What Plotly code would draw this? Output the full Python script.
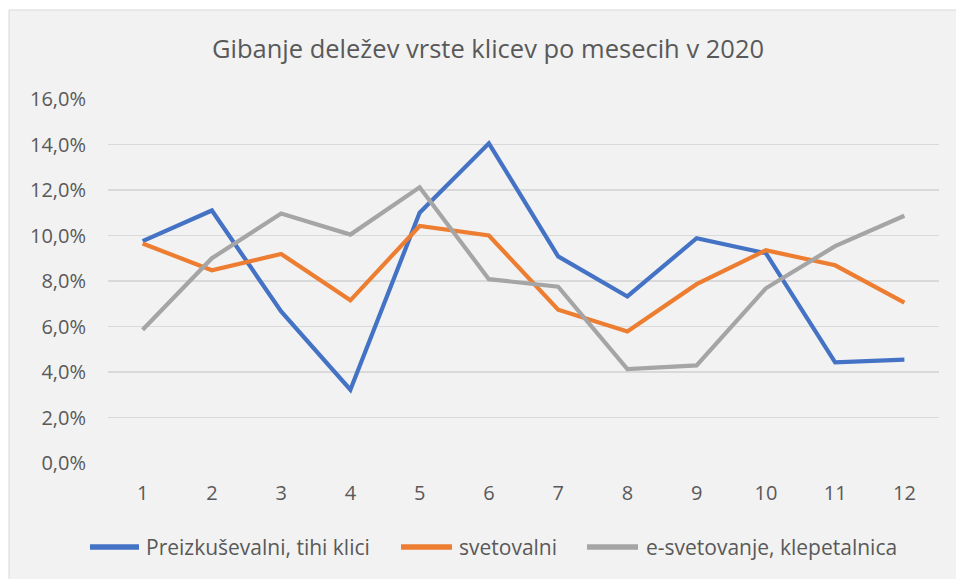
import plotly.graph_objects as go

months = [str(i) for i in range(1, 13)]
preizkusevalni = [9.75, 11.1, 6.66, 3.22, 11.0, 14.05, 9.08, 7.32, 9.88, 9.22, 4.42, 4.54]
svetovalni = [9.65, 8.47, 9.19, 7.15, 10.42, 10.0, 6.74, 5.78, 7.86, 9.35, 8.69, 7.05]
e_svetovanje = [5.86, 9.0, 10.97, 10.04, 12.12, 8.08, 7.75, 4.13, 4.29, 7.68, 9.53, 10.87]
series_names = ["Preizkuševalni, tihi klici", "svetovalni", "e-svetovanje, klepetalnica"]
y_ticks = [0, 2, 4, 6, 8, 10, 12, 14, 16]
y_ticklabels = [f"{v:.1f}".replace(".", ",") + "%" for v in y_ticks]
title_text = "Gibanje deležev vrste klicev po mesecih v 2020"

colors = ["#4472C4", "#ED7D31", "#A5A5A5"]
FONT = "Open Sans"
TXT = "#595959"

W, H = 956, 579
L, R, T, B = 108, 17, 99, 116

fig = go.Figure()
for name, vals, c in zip(series_names, [preizkusevalni, svetovalni, e_svetovanje], colors):
    fig.add_trace(go.Scatter(x=months, y=vals, mode="lines", name=name,
                             line=dict(color=c, width=4.2), hoverinfo="skip", showlegend=False))

pw = W - L - R
ph = H - T - B
def px_x(p):
    return (p - L) / pw
def px_y(p):
    return (H - B - p) / ph

fig.add_shape(type="rect", xref="paper", yref="paper",
              x0=px_x(9), x1=px_x(W + 10), y0=px_y(H + 10), y1=px_y(10),
              fillcolor="#F2F2F2", line=dict(color="#D9D9D9", width=1), layer="below")

# legend (drawn as line samples + text)
leg_y = 547
leg_items = [(88, 141, 145), (399, 454, 458), (585, 640, 645)]
for (s0, s1, tx), name, c in zip(leg_items, series_names, colors):
    fig.add_shape(type="line", xref="paper", yref="paper",
                  x0=px_x(s0 + 2), x1=px_x(s1 - 2), y0=px_y(leg_y), y1=px_y(leg_y),
                  line=dict(color=c, width=5.5))
    fig.add_annotation(xref="paper", yref="paper", x=px_x(tx - 1), y=px_y(leg_y),
                       xanchor="left", yanchor="middle", text=name, showarrow=False,
                       font=dict(family=FONT, size=21, color=TXT))

fig.update_layout(
    width=W, height=H,
    margin=dict(l=L, r=R, t=T, b=B),
    paper_bgcolor="white",
    plot_bgcolor="rgba(0,0,0,0)",
    font=dict(family=FONT, color=TXT, size=20),
    title=dict(text=title_text, x=488 / W, xanchor="center", y=1 - 49 / H, yanchor="middle",
               yref="container", xref="container", font=dict(family=FONT, size=25.5, color=TXT)),
    xaxis=dict(type="category", showgrid=False, zeroline=False, showline=False,
               ticks="", tickfont=dict(size=20, color=TXT), range=[-0.5, 11.5],
               ticklabelstandoff=16),
    yaxis=dict(range=[0, 16], tickvals=y_ticks, ticktext=y_ticklabels,
               showgrid=True, gridcolor="#D9D9D9", gridwidth=1.5, zeroline=False,
               showline=False, ticks="", tickfont=dict(size=20, color=TXT),
               ticklabelstandoff=21),
    showlegend=False,
)

fig.write_html("out.html", config={"displayModeBar": False, "staticPlot": True},
               post_script="document.body.style.margin='0';")
